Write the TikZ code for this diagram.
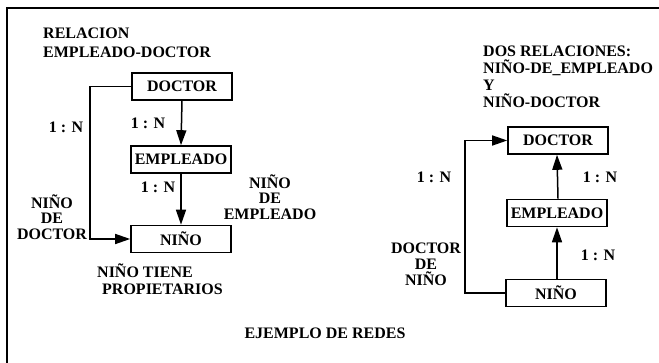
\documentclass[tikz,border=0pt]{standalone}
\usepackage{fontspec}
\setmainfont{Liberation Serif}
\usetikzlibrary{arrows.meta}

\begin{document}
\begin{tikzpicture}[x=1pt,y=-1pt,
  box/.style={draw,line width=1.6pt,minimum width=100pt,minimum height=27pt,inner sep=0pt,font=\bfseries\fontsize{16}{16}\selectfont},
  lbl/.style={inner sep=0pt,align=center,font=\bfseries\fontsize{16}{15.5}\selectfont},
  arr/.style={line width=1.5pt,-{Triangle[length=15pt,width=10pt]}}]
\useasboundingbox (0,0) rectangle (659,363);

% frame
\draw[line width=2.2pt] (7,363) -- (7,8) -- (659,8);

% left: one relation
\node[lbl,align=left,anchor=west,font=\bfseries\fontsize{16}{19}\selectfont] (tl) at (43,42.5) {RELACION\\EMPLEADO-DOCTOR};
\node[box] (dl) at (182,86.5) {DOCTOR};
\node[box] (el) at (181,159.5) {EMPLEADO};
\node[box] (nl) at (181,239) {NIÑO};
\coordinate (bendl) at (90,0);
\draw[arr] (dl.south) -- (el.north);
\draw[arr] (el.south) -- (nl.north);
\draw[arr] (dl.west) -- (dl.west -| bendl) -- (nl.west -| bendl) -- (nl.west);
\node[lbl] (ka) at (66,127) {1 : N};
\node[lbl] (kb) at (148,123) {1 : N};
\node[lbl] (kc) at (158,187) {1 : N};
\node[lbl] (ne) at (270,197) {NIÑO\\DE\\EMPLEADO};
\node[lbl] (nd) at (52,217) {NIÑO\\DE\\DOCTOR};
\node[lbl,align=left,anchor=west,font=\bfseries\fontsize{16}{17}\selectfont] (np) at (97,279) {NIÑO TIENE\\\hspace*{5pt}PROPIETARIOS};

% right: two relations
\node[lbl,align=left,anchor=west,font=\bfseries\fontsize{16}{17}\selectfont] (tr) at (483,77) {DOS RELACIONES:\\NIÑO-DE\_EMPLEADO\\Y\\NIÑO-DOCTOR};
\node[box] (dr) at (558,140.5) {DOCTOR};
\node[box] (er) at (557,213) {EMPLEADO};
\node[box] (nr) at (556,293) {NIÑO};
\coordinate (bendr) at (465,0);
\draw[arr] (nr.north -| er) -- (er.south);
\draw[arr] (er.north -| dr.south) -- (dr.south -| er);
\draw[arr] (nr.west) -- (nr.west -| bendr) -- (dr.west -| bendr) -- (dr.west);
\node[lbl] (kd) at (434,177) {1 : N};
\node[lbl] (ke) at (600,177) {1 : N};
\node[lbl] (kf) at (598,255) {1 : N};
\node[lbl,font=\bfseries\fontsize{16}{16}\selectfont] (dn) at (426,264) {DOCTOR\\DE\\NIÑO};

% caption
\node[lbl] (cap) at (325,333) {EJEMPLO DE REDES};
\end{tikzpicture}
\end{document}
